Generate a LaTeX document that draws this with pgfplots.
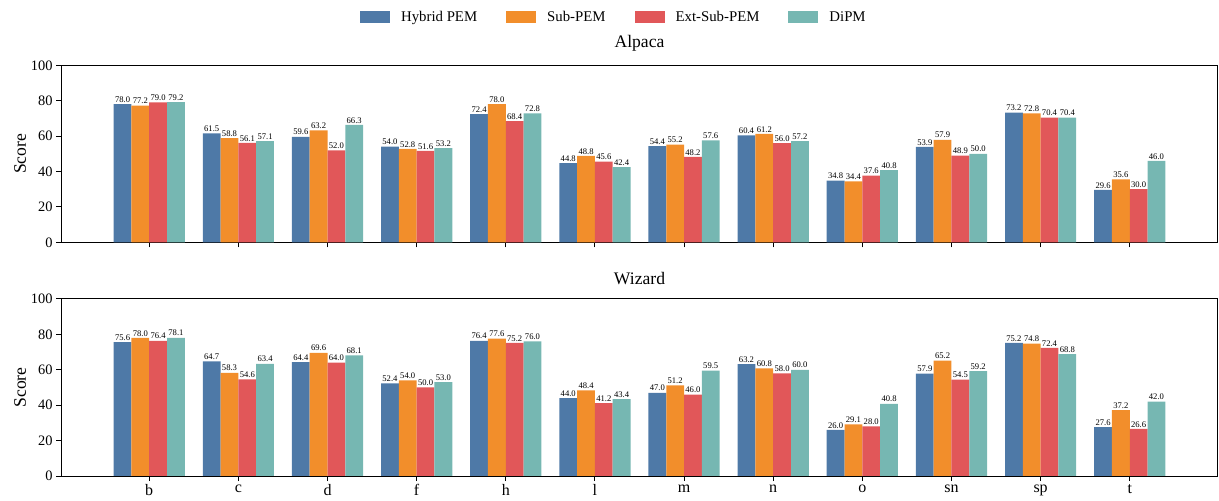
\documentclass[border=0pt]{standalone}
\usepackage{pgfplots}
\usepackage{pgfplotstable}
\pgfplotsset{compat=1.18}
\usepackage{fontspec}
\setmainfont{Liberation Serif}
\definecolor{cblue}{HTML}{4E79A7}
\definecolor{corange}{HTML}{F28E2B}
\definecolor{cred}{HTML}{E15759}
\definecolor{cteal}{HTML}{76B7B2}

\pgfplotstableread{
x hyb sub ext dipm
0 78.0 77.2 79.0 79.2
1 61.5 58.8 56.1 57.1
2 59.6 63.2 52.0 66.3
3 54.0 52.8 51.6 53.2
4 72.4 78.0 68.4 72.8
5 44.8 48.8 45.6 42.4
6 54.4 55.2 48.2 57.6
7 60.4 61.2 56.0 57.2
8 34.8 34.4 37.6 40.8
9 53.9 57.9 48.9 50.0
10 73.2 72.8 70.4 70.4
11 29.6 35.6 30.0 46.0
}\alpaca

\pgfplotstableread{
x hyb sub ext dipm
0 75.6 78.0 76.4 78.1
1 64.7 58.3 54.6 63.4
2 64.4 69.6 64.0 68.1
3 52.4 54.0 50.0 53.0
4 76.4 77.6 75.2 76.0
5 44.0 48.4 41.2 43.4
6 47.0 51.2 46.0 59.5
7 63.2 60.8 58.0 60.0
8 26.0 29.1 28.0 40.8
9 57.9 65.2 54.5 59.2
10 75.2 74.8 72.4 68.8
11 27.6 37.2 26.6 42.0
}\wizard

\pgfplotsset{
  panel/.style={
    scale only axis,
    width=1157bp, height=177bp,
    anchor=south west,
    xmin=-0.99, xmax=11.99,
    ymin=0, ymax=100,
    ytick={0,20,40,60,80,100},
    xtick={0,...,11},
    tick align=outside,
    xtick pos=bottom, ytick pos=left,
    major tick length=5bp,
    axis line style={line width=1bp, black},
    tick style={line width=1bp, black},
    /pgf/number format/assume math mode=true,
    ticklabel style={font=\fontsize{14.4bp}{16bp}\selectfont},
    ylabel={Score},
    ylabel style={at={(axis description cs:-0.0354,0.5)}, anchor=center, font=\fontsize{17.6bp}{19bp}\selectfont},
    title style={at={(axis description cs:0.5,1)}, anchor=south, inner sep=0pt, yshift=8bp, font=\fontsize{17.6bp}{19bp}\selectfont},
    ybar=0pt,
    bar width=17.8bp,
    every axis plot/.append style={draw=none},
    nodes near coords={\pgfmathprintnumber[fixed,fixed zerofill,precision=1,assume math mode=true]{\pgfplotspointmeta}},
    nodes near coords style={font=\fontsize{8.6bp}{9bp}\selectfont, inner sep=1.5bp, anchor=south, text=black},
  }
}

\begin{document}
\begin{tikzpicture}
\useasboundingbox (0,0) rectangle (1219bp,501bp);
\begin{axis}[panel, at={(61bp,258.7bp)}, title={Alpaca}, xticklabels={},
  legend columns=4,
  legend image code/.code={\fill[#1] (0bp,-6bp) rectangle (30bp,6bp);},
  legend style={draw=none, fill=none, at={(axis description cs:0.477,1.271)}, anchor=center,
    font=\fontsize{14.8bp}{16bp}\selectfont,
    nodes={inner sep=0pt},
    /tikz/every odd column/.append style={column sep=11bp},
    /tikz/every even column/.append style={column sep=29bp}},
]
\addplot[fill=cblue] table[x=x,y=hyb] {\alpaca};
\addplot[fill=corange] table[x=x,y=sub] {\alpaca};
\addplot[fill=cred] table[x=x,y=ext] {\alpaca};
\addplot[fill=cteal] table[x=x,y=dipm] {\alpaca};
\legend{Hybrid PEM, Sub-PEM, Ext-Sub-PEM, DiPM}
\end{axis}
\begin{axis}[panel, at={(61bp,25bp)}, title={Wizard},
  xticklabels={b,c,d,f,h,l,m,n,o,sn,sp,t},
  xticklabel style={font=\fontsize{16bp}{18bp}\selectfont},
]
\addplot[fill=cblue] table[x=x,y=hyb] {\wizard};
\addplot[fill=corange] table[x=x,y=sub] {\wizard};
\addplot[fill=cred] table[x=x,y=ext] {\wizard};
\addplot[fill=cteal] table[x=x,y=dipm] {\wizard};
\end{axis}
\end{tikzpicture}
\end{document}
